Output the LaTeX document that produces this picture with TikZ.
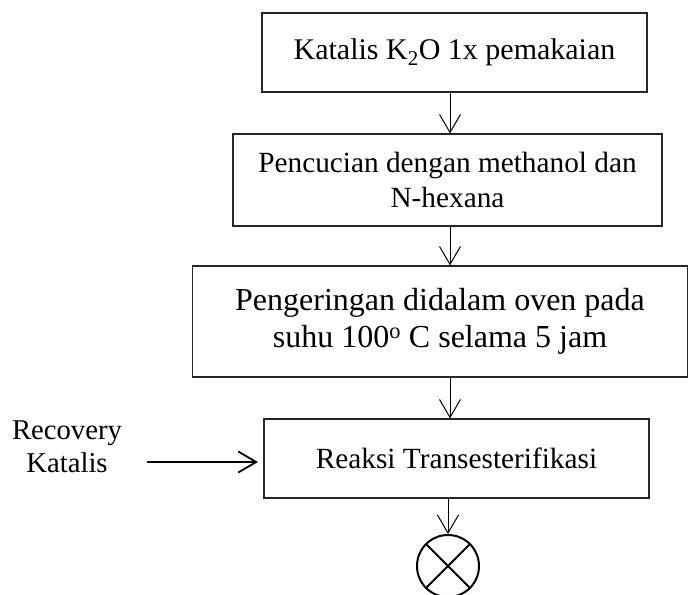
\documentclass[tikz,border=0pt]{standalone}
\usepackage{fontspec}
\setmainfont{Liberation Serif}
\usetikzlibrary{arrows.meta}
\tikzset{
  procbox/.style={draw=black!85, line width=1.2pt, inner sep=0pt, align=center, text=black},
  flow/.style={line width=1pt, -{Straight Barb[length=18pt,width=21pt,line width=1pt]}},
  thickflow/.style={line width=2pt, -{Straight Barb[length=18pt,width=21pt,line width=1.8pt]}}
}
\begin{document}
\begin{tikzpicture}[x=1pt,y=-1pt]
\useasboundingbox (0,0) rectangle (689,595);
\node[procbox, minimum width=385pt, minimum height=79pt, font=\fontsize{30}{35}\selectfont] (b1) at (454.5,52.5) {Katalis K\textsubscript{2}O 1x pemakaian};
\node[procbox, minimum width=429pt, minimum height=92pt, font=\fontsize{29.3}{35}\selectfont] (b2) at (447.5,180) {Pencucian dengan methanol dan\\N-hexana};
\node[procbox, minimum width=495pt, minimum height=111pt, font=\fontsize{32}{37}\selectfont] (b3) at (440,321.5) {Pengeringan didalam oven pada\\suhu 100\textsuperscript{o} C selama 5 jam};
\node[procbox, minimum width=385pt, minimum height=79pt, font=\fontsize{29.3}{35}\selectfont] (b4) at (456.5,458.5) {Reaksi Transesterifikasi};
\node[align=center, inner sep=0pt, font=\fontsize{28.7}{33}\selectfont] (rk) at (67,447) {Recovery\\Katalis};
\node[draw, circle, line width=2pt, minimum size=62pt, inner sep=0pt] (cx) at (448,566) {};
\coordinate (ax) at (450,0);
\coordinate (ra) at (147,462);
\coordinate (rb) at (258,462);
\draw[flow] (b1.south -| ax) -- (b2.north -| ax);
\draw[flow] (b2.south -| ax) -- (b3.north -| ax);
\draw[flow] (b3.south -| ax) -- (b4.north -| ax);
\draw[flow] (b4.south -| cx.north) -- (cx.north);
\draw[thickflow] (ra) -- (rb);
\draw[line width=2pt] (cx.45) -- (cx.225) (cx.135) -- (cx.-45);
\end{tikzpicture}
\end{document}
